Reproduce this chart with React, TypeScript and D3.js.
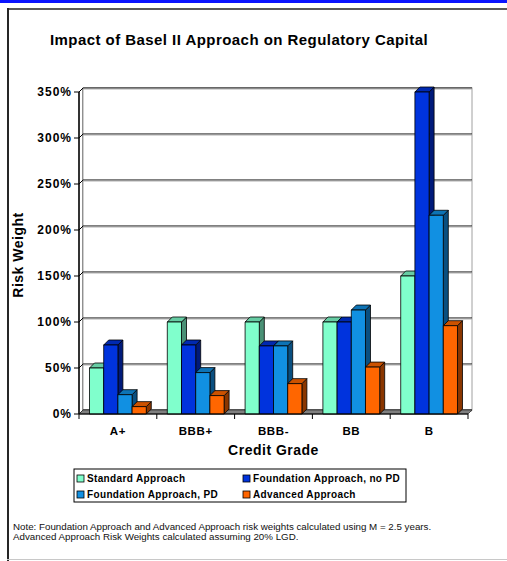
import React from "react";
import * as d3 from "d3";

// Credit grades along the x axis
const categories = ["A+", "BBB+", "BBB-", "BB", "B"];

// Series names shown in the legend
const seriesNames = [
  "Standard Approach",
  "Foundation Approach, no PD",
  "Foundation Approach, PD",
  "Advanced Approach",
];

// Risk weights (%) per series, in grade order
const standardApproach = [50, 100, 100, 100, 150];
const foundationNoPD = [75, 75, 74, 100, 350];
const foundationPD = [21, 45, 74, 113, 216];
const advancedApproach = [8, 20, 33, 51, 96];

const seriesValues = [standardApproach, foundationNoPD, foundationPD, advancedApproach];

// Front, top and side face colours of each series
const frontColors = ["#80ffcc", "#0033dd", "#1190e2", "#ff6600"];
const sideColors = ["#4a9176", "#001a7a", "#0a4f80", "#8a3600"];
const topColors = ["#66cca3", "#0029b0", "#0d73b5", "#cc5200"];

const yTicks = [0, 50, 100, 150, 200, 250, 300, 350];

const W = 507;
const H = 561;
const FONT = "Arial, 'Liberation Sans', sans-serif";

export default function App() {
  // Front plane of the plot, plus a small 3-D depth offset for the back wall
  const left = 79;
  const right = 468;
  const base = 414;
  const top = 92;
  const depth = 4;

  const y = d3.scaleLinear().domain([0, 350]).range([base, top]);
  const x = d3.scaleBand<string>().domain(categories).range([left, right]).padding(0);
  const xs = d3
    .scaleBand<number>()
    .domain(d3.range(seriesNames.length))
    .range([0, x.bandwidth()])
    .paddingInner(0)
    .paddingOuter(0.74);

  const bd = 5; // bar depth

  const bars: React.ReactNode[] = [];
  categories.forEach((cat, ci) => {
    seriesValues.forEach((vals, si) => {
      const v = vals[ci];
      const x0 = (x(cat) as number) + (xs(si) as number);
      const w = xs.bandwidth();
      const yt = y(v);
      const yb = base;
      bars.push(
        <g key={`${cat}-${si}`} stroke="#000" strokeWidth={0.8} strokeLinejoin="round">
          <polygon
            points={`${x0 + w},${yt} ${x0 + w + bd},${yt - bd} ${x0 + w + bd},${yb - bd} ${x0 + w},${yb}`}
            fill={sideColors[si]}
          />
          <polygon
            points={`${x0},${yt} ${x0 + bd},${yt - bd} ${x0 + w + bd},${yt - bd} ${x0 + w},${yt}`}
            fill={topColors[si]}
          />
          <rect x={x0} y={yt} width={w} height={yb - yt} fill={frontColors[si]} />
        </g>
      );
    });
  });

  const legendX = 74;
  const legendY = 469;
  const legendW = 332;
  const legendH = 33;
  const legendCols = [77, 243];
  const legendRows = [482, 498];

  return (
    <svg
      width={W}
      height={H}
      style={{ position: "absolute", left: 0, top: 0, display: "block" }}
      fontFamily={FONT}
    >
      <rect x={0} y={0} width={W} height={H} fill="#fff" />
      {/* header band and frame */}
      <rect x={0} y={0} width={W} height={3} fill="#0a14ff" />
      <rect x={7} y={8} width={W - 7} height={2} fill="#595959" />
      <rect x={7} y={8} width={2} height={H - 8} fill="#262626" />
      <line x1={7} x2={W} y1={559.5} y2={559.5} stroke="#c8c8c8" strokeWidth={1} />

      <text
        x={239}
        y={45}
        textAnchor="middle"
        fontSize={15}
        fontWeight="bold"
        letterSpacing={0.45}
      >
        Impact of Basel II Approach on Regulatory Capital
      </text>

      {/* left wall */}
      <polygon
        points={`${left},${base} ${left},${top} ${left + depth},${top - depth} ${left + depth},${base - depth}`}
        fill="#fff"
        stroke="#000"
        strokeWidth={1}
      />
      {/* back wall */}
      <rect
        x={left + depth}
        y={top - depth}
        width={right - left}
        height={base - top}
        fill="#fff"
        stroke="#a0a0a0"
        strokeWidth={1}
      />
      {/* gridlines */}
      {yTicks.map((t) => (
        <g key={t}>
          <line
            x1={left}
            y1={y(t)}
            x2={left + depth}
            y2={y(t) - depth}
            stroke="#000"
            strokeWidth={1}
          />
          <line
            x1={left + depth}
            x2={right + depth}
            y1={y(t) - depth}
            y2={y(t) - depth}
            stroke="#000"
            strokeWidth={1}
          />
          <line
            x1={left + depth}
            x2={right + depth}
            y1={y(t) - depth + 1}
            y2={y(t) - depth + 1}
            stroke="#b0b0b0"
            strokeWidth={1}
          />
        </g>
      ))}
      {/* floor */}
      <polygon
        points={`${left},${base} ${right},${base} ${right + depth},${base - depth} ${left + depth},${base - depth}`}
        fill="#808080"
        stroke="#333"
        strokeWidth={0.8}
      />

      {bars}

      {/* y axis */}
      <line x1={left} x2={left} y1={top} y2={base} stroke="#000" strokeWidth={1.2} />
      {yTicks.map((t) => (
        <g key={t}>
          <line x1={left - 5} x2={left} y1={y(t)} y2={y(t)} stroke="#000" strokeWidth={1} />
          <text
            x={72}
            y={y(t)}
            dy="0.36em"
            textAnchor="end"
            fontSize={12}
            fontWeight="bold"
            letterSpacing={1}
          >
            {t}%
          </text>
        </g>
      ))}

      {/* x axis */}
      <line x1={left} x2={right} y1={base} y2={base} stroke="#000" strokeWidth={1.2} />
      {categories.map((c) => (
        <line
          key={c}
          x1={x(c) as number}
          x2={x(c) as number}
          y1={base}
          y2={base + 5}
          stroke="#000"
          strokeWidth={1}
        />
      ))}
      <line x1={right} x2={right} y1={base} y2={base + 5} stroke="#000" strokeWidth={1} />
      {categories.map((c) => (
        <text
          key={c}
          x={(x(c) as number) + x.bandwidth() / 2}
          y={435}
          textAnchor="middle"
          fontSize={11.5}
          fontWeight="bold"
          letterSpacing={0.6}
        >
          {c}
        </text>
      ))}

      <text
        x={(left + right) / 2}
        y={455}
        textAnchor="middle"
        fontSize={14}
        fontWeight="bold"
        letterSpacing={0.5}
      >
        Credit Grade
      </text>
      <text
        transform={`translate(23, 255) rotate(-90)`}
        textAnchor="middle"
        fontSize={14}
        fontWeight="bold"
        letterSpacing={0.5}
      >
        Risk Weight
      </text>

      {/* legend */}
      <rect
        x={legendX}
        y={legendY}
        width={legendW}
        height={legendH}
        fill="#fff"
        stroke="#000"
        strokeWidth={1}
      />
      {seriesNames.map((name, i) => {
        const lx = legendCols[i % 2];
        const ly = legendRows[Math.floor(i / 2)];
        return (
          <g key={name}>
            <rect
              x={lx}
              y={ly - 7}
              width={7}
              height={7}
              fill={frontColors[i]}
              stroke="#000"
              strokeWidth={0.8}
            />
            <text x={lx + 10} y={ly} fontSize={10} fontWeight="bold" letterSpacing={0.35}>
              {name}
            </text>
          </g>
        );
      })}

      <text x={13} y={530} fontSize={9.75} fill="#111">
        Note: Foundation Approach and Advanced Approach risk weights calculated using M = 2.5 years.
      </text>
      <text x={13} y={540} fontSize={9.75} fill="#111">
        Advanced Approach Risk Weights calculated assuming 20% LGD.
      </text>
    </svg>
  );
}
